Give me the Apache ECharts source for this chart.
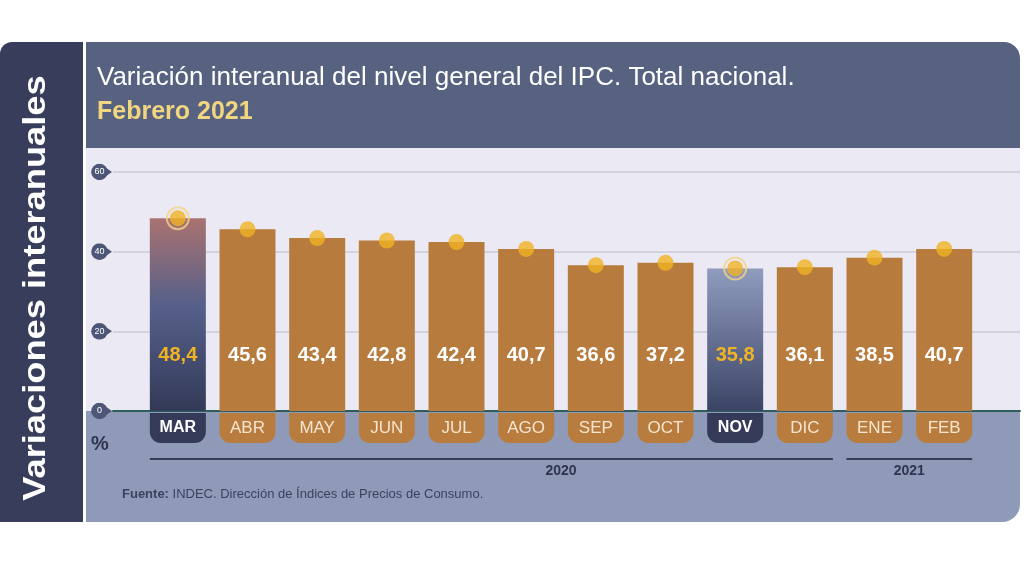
<!DOCTYPE html>
<html>
<head>
<meta charset="utf-8">
<script type="text/javascript" src="https://cdn.jsdelivr.net/npm/echarts@6/dist/echarts.min.js"></script>
<style>
 body { margin: 0; background: #fff; }
 #wrap { position: relative; width: 1024px; height: 576px; overflow: hidden; }
 .pnl { position: absolute; }
 #side { left: 0; top: 42px; width: 83px; height: 480px; background: #373d5b; border-top-left-radius: 12px; }
 #head { left: 86px; top: 42px; width: 934px; height: 106px; background: #566280; border-top-right-radius: 16px; }
 #plot { left: 86px; top: 148px; width: 934px; height: 263px; background: #ebe9f3; }
 #band { left: 86px; top: 411px; width: 934px; height: 111px; background: #8f9ab8; border-bottom-right-radius: 18px; }
 #chart { position: absolute; left: 0; top: 0; width: 1024px; height: 576px; }
</style>
<script type="text/javascript">
// data
var months = ['MAR','ABR','MAY','JUN','JUL','AGO','SEP','OCT','NOV','DIC','ENE','FEB'];
var values = [48.4, 45.6, 43.4, 42.8, 42.4, 40.7, 36.6, 37.2, 35.8, 36.1, 38.5, 40.7];
var highlighted = ['MAR','NOV'];
var yTicks = [0, 20, 40, 60];
var years = ['2020', '2021'];
var yearFirst = ['MAR', 'ENE'];
var yearLast = ['DIC', 'FEB'];
var yearLabelAt = [5.5, 10.5];   // label centre, in category positions

var FONT = '"Liberation Sans", Arial, sans-serif';

function fmt(v){ return v.toFixed(1).replace('.', ','); }
function isHi(m){ return highlighted.indexOf(m) >= 0; }

function pinImage(){
 var svg = "<svg xmlns='http://www.w3.org/2000/svg' width='22' height='17'>" +
   "<circle cx='8.5' cy='8.5' r='8.3' fill='#4d5676'/>" +
   "<path d='M11 1.6 L21 8.5 L11 15.4 Z' fill='#4d5676'/></svg>";
 return 'data:image/svg+xml;charset=utf-8,' + encodeURIComponent(svg);
}

function init(){
 var chart = echarts.init(document.getElementById('chart'), null, {renderer: 'canvas'});

 var barData = values.map(function(v, i){
   var m = months[i];
   var item = { value: v };
   if (m == 'MAR'){
     item.itemStyle = { color: new echarts.graphic.LinearGradient(0, 0, 0, 1, [
       {offset: 0, color: '#a97270'}, {offset: 0.45, color: '#56608a'}, {offset: 1, color: '#333a58'}]) };
     item.label = { color: '#f0b323' };
   } else if (m == 'NOV'){
     item.itemStyle = { color: new echarts.graphic.LinearGradient(0, 0, 0, 1, [
       {offset: 0, color: '#909cbe'}, {offset: 1, color: '#3b4465'}]) };
     item.label = { color: '#f0b323' };
   }
   return item;
 });

 var ringData = values.map(function(v, i){ return isHi(months[i]) ? v : '-'; });

 var baseGraphic = [
   { type: 'text', x: 36, y: 288, rotation: Math.PI / 2, scaleX: 1.17,
     style: { text: 'Variaciones interanuales', fill: '#ffffff', font: 'bold 31px ' + FONT,
              textAlign: 'center', textVerticalAlign: 'middle' } },
   { type: 'text', x: 97, y: 78,
     style: { text: 'Variación interanual del nivel general del IPC. Total nacional.', fill: '#ffffff',
              font: '26px ' + FONT, textVerticalAlign: 'middle' } },
   { type: 'text', x: 97, y: 112,
     style: { text: 'Febrero 2021', fill: '#f2d580', font: 'bold 25px ' + FONT, textVerticalAlign: 'middle' } },
   { type: 'text', x: 91, y: 444,
     style: { text: '%', fill: '#2e3452', font: 'bold 20px ' + FONT, textVerticalAlign: 'middle' } },
   { type: 'text', x: 122, y: 494,
     style: { text: '{b|Fuente:} INDEC. Dirección de Índices de Precios de Consumo.', fill: '#3b4260',
              font: '13px ' + FONT, textVerticalAlign: 'middle',
              rich: { b: { fontWeight: 'bold', fontSize: 13, fontFamily: FONT, fill: '#3b4260' } } } }
 ];

 var option = {
   animation: false,
   backgroundColor: 'transparent',
   textStyle: { fontFamily: FONT },
   grid: [
     { left: 113, right: 4, top: 172, height: 239 },
     { left: 143, width: 836, top: 172, height: 239 }
   ],
   xAxis: [
     { gridIndex: 0, type: 'value', min: 0, max: 1, splitLine: { show: false },
       axisTick: { show: false }, axisLabel: { show: false },
       axisLine: { show: true, onZero: false, lineStyle: { color: '#2e5e5c', width: 2 } } },
     { gridIndex: 1, type: 'category', data: months,
       axisLine: { show: false }, axisTick: { show: false },
       axisLabel: {
         interval: 0, margin: 2,
         formatter: function(v){ return isHi(v) ? '{h|' + v + '}' : '{n|' + v + '}'; },
         rich: {
           n: { backgroundColor: '#b97c3f', color: '#f4e5cf', width: 56, height: 30, align: 'center',
                verticalAlign: 'middle', fontSize: 17, fontFamily: FONT, borderRadius: [0, 0, 11, 11] },
           h: { backgroundColor: '#343a58', color: '#ffffff', width: 56, height: 30, align: 'center',
                verticalAlign: 'middle', fontSize: 16, fontWeight: 'bold', fontFamily: FONT, borderRadius: [0, 0, 11, 11] }
         }
       } }
   ],
   yAxis: [
     { gridIndex: 0, type: 'value', min: 0, max: 60, interval: 20,
       axisLine: { show: false }, axisTick: { show: false },
       splitLine: { lineStyle: { color: '#cbcad8', width: 1.5 } },
       axisLabel: {
         margin: 0,
         formatter: function(v){ return yTicks.indexOf(v) >= 0 ? '{p|' + v + '}' : ''; },
         rich: { p: { backgroundColor: { image: pinImage() }, width: 17, height: 17, padding: [0, 5, 0, 0],
                      align: 'center', verticalAlign: 'middle', color: '#ffffff', fontSize: 9, fontFamily: FONT } }
       } },
     { gridIndex: 1, type: 'value', min: 0, max: 60, show: false }
   ],
   series: [
     { type: 'bar', xAxisIndex: 1, yAxisIndex: 1, data: barData, barWidth: 56,
       itemStyle: { color: '#b77b3d' },
       label: { show: true, position: 'insideBottom', distance: 46, formatter: function(p){ return fmt(p.value); },
                color: '#ffffff', fontSize: 20, fontWeight: 'bold', fontFamily: FONT } },
     { type: 'scatter', xAxisIndex: 1, yAxisIndex: 1, data: ringData, symbolSize: 22, z: 3,
       itemStyle: { color: 'rgba(0,0,0,0)', borderColor: '#f3d38a', borderWidth: 2 } },
     { type: 'scatter', xAxisIndex: 1, yAxisIndex: 1, data: values, symbolSize: 16, z: 4,
       itemStyle: { color: '#f0b323' } }
   ],
   graphic: { elements: baseGraphic }
 };

 chart.setOption(option);

 // year brackets below the month tabs
 var half = 28;
 var els = baseGraphic.slice();
 for (var k = 0; k < years.length; k++){
   var x0 = chart.convertToPixel({xAxisIndex: 1}, yearFirst[k]) - half;
   var x1 = chart.convertToPixel({xAxisIndex: 1}, yearLast[k]) + half;
   var a = chart.convertToPixel({xAxisIndex: 1}, months[Math.floor(yearLabelAt[k])]);
   var b = chart.convertToPixel({xAxisIndex: 1}, months[Math.ceil(yearLabelAt[k])]);
   els.push({ type: 'line', shape: { x1: x0, y1: 459, x2: x1, y2: 459 },
              style: { stroke: '#363c5a', lineWidth: 2 } });
   els.push({ type: 'text', x: (a + b) / 2, y: 471,
              style: { text: years[k], fill: '#2e3452', font: 'bold 14px ' + FONT,
                       textAlign: 'center', textVerticalAlign: 'middle' } });
 }
 chart.setOption({ graphic: { elements: els } });
}
</script>
</head>
<body onload="init();">
<div id="wrap">
 <div class="pnl" id="side"></div>
 <div class="pnl" id="head"></div>
 <div class="pnl" id="plot"></div>
 <div class="pnl" id="band"></div>
 <div id="chart"></div>
</div>
</body>
</html>
